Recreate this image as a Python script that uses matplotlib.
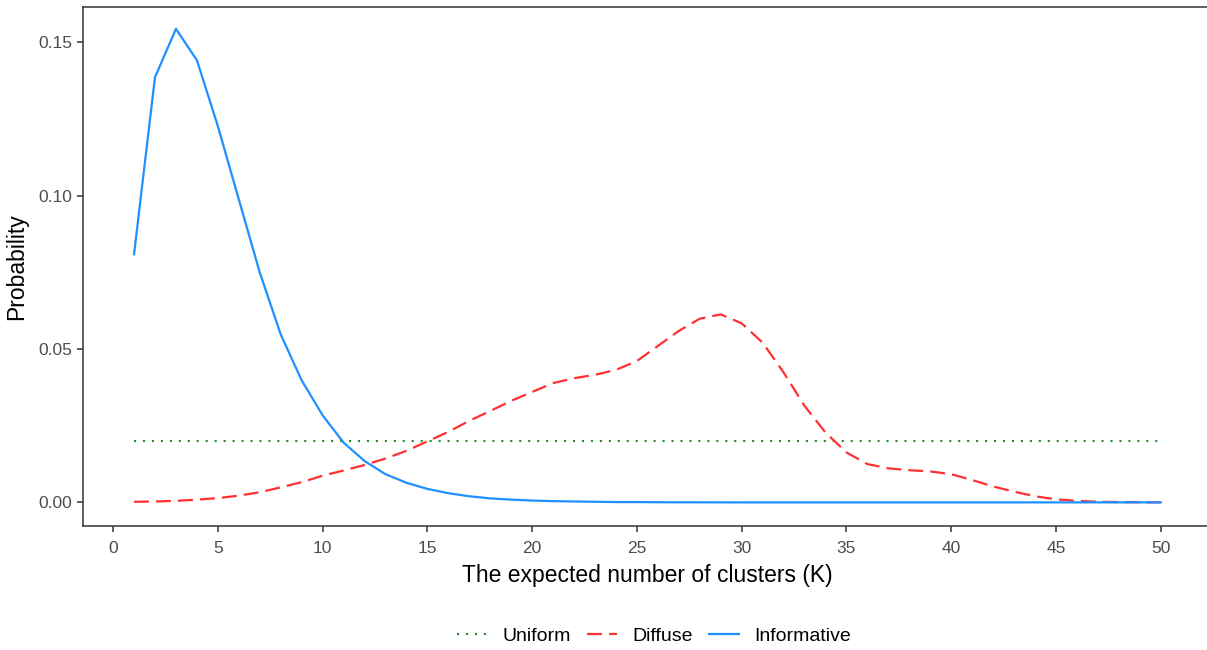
import matplotlib
matplotlib.use("Agg")
import matplotlib.pyplot as plt

# ── 数据 ──────────────────────────────────────────────────────────────────────
k_values = list(range(1, 51))

uniform = [0.02] * 50

diffuse = [
    0.0002, 0.0003, 0.0005, 0.0009, 0.0014, 0.0022, 0.0033, 0.0049, 0.0066, 0.0087,
    0.0104, 0.0122, 0.0143, 0.0168, 0.0199, 0.0230, 0.0266, 0.0298, 0.0331, 0.0360,
    0.0389, 0.0405, 0.0416, 0.0432, 0.0461, 0.0510, 0.0559, 0.0599, 0.0613, 0.0584,
    0.0521, 0.0424, 0.0315, 0.0228, 0.0163, 0.0125, 0.0111, 0.0105, 0.0101, 0.0092,
    0.0073, 0.0052, 0.0035, 0.0020, 0.0010, 0.0005, 0.0002, 0.0001, 0.00005, 0.0000,
]

informative = [
    0.0809, 0.1386, 0.1544, 0.1442, 0.1227, 0.0988, 0.0750, 0.0548, 0.0398, 0.0284,
    0.0195, 0.0135, 0.0092, 0.0064, 0.0044, 0.0030, 0.0020, 0.0013, 0.0009, 0.0006,
    0.0004, 0.0003, 0.0002, 0.0001, 0.0001, 0.00005, 0.00003, 0.00002, 0.00001, 0.0,
    0.0, 0.0, 0.0, 0.0, 0.0, 0.0, 0.0, 0.0, 0.0, 0.0,
    0.0, 0.0, 0.0, 0.0, 0.0, 0.0, 0.0, 0.0, 0.0, 0.0,
]

x_ticks = list(range(0, 51, 5))
y_ticks = [0.00, 0.05, 0.10, 0.15]

# ── 绘图 ──────────────────────────────────────────────────────────────────────
plt.rcParams["font.family"] = ["Liberation Sans", "DejaVu Sans"]

W, H = 1207, 650
fig = plt.figure(figsize=(W / 100, H / 100), dpi=100)
left, right, top, bottom = 82.7, 1212, 6.5, 526
ax = fig.add_axes([left / W, 1 - bottom / H, (right - left) / W, (bottom - top) / H])

ax.plot(k_values, uniform, color="#228B22", linestyle=(0, (1, 3.3)), linewidth=1.5, label="Uniform")
ax.plot(k_values, diffuse, color="#FF3030", linestyle=(0, (6.7, 3.2)), linewidth=1.6, label="Diffuse")
ax.plot(k_values, informative, color="#1E90FF", linestyle="-", linewidth=1.6, label="Informative")

ax.set_xlim(-1.45, 52.45)
ax.set_ylim(-0.0077, 0.1617)
ax.set_xticks(x_ticks)
ax.set_yticks(y_ticks)
ax.set_yticklabels([f"{v:.2f}" for v in y_ticks])

for spine in ax.spines.values():
    spine.set_color("#333333")
    spine.set_linewidth(1.1)
ax.tick_params(direction="out", length=4, width=1.1, color="#333333",
               labelcolor="#4D4D4D", labelsize=12.5)
ax.tick_params(axis="x", pad=6.5)
ax.tick_params(axis="y", pad=3.5)

ax.set_xlabel("The expected number of clusters (K)", fontsize=16.5, color="black", labelpad=6)
ax.set_ylabel("Probability", fontsize=16.5, color="black", labelpad=7)

fig.legend(loc="center", bbox_to_anchor=(654 / W, 1 - 636 / H), ncol=3, frameon=False,
           fontsize=14, handlelength=1.56, columnspacing=0.83, handletextpad=0.78)

fig.savefig("out.png", dpi=100)
